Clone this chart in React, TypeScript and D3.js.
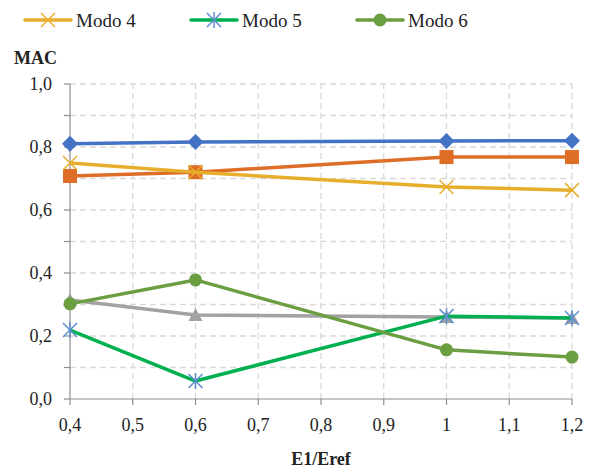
import React, { useEffect, useRef } from 'react';
import * as d3 from 'd3';

// x values (E1/Eref)
const ratios = [0.4, 0.6, 1.0, 1.2];

// MAC values per mode
const modo1 = [0.81, 0.816, 0.819, 0.82];
const modo2 = [0.708, 0.72, 0.768, 0.768];
const modo4 = [0.749, 0.72, 0.673, 0.663];
const modo3 = [0.314, 0.267, 0.26, 0.257];
const modo5 = [0.219, 0.057, 0.263, 0.257];
const modo6 = [0.302, 0.378, 0.156, 0.133];

const xTicks = [0.4, 0.5, 0.6, 0.7, 0.8, 0.9, 1, 1.1, 1.2];
const yLabelTicks = [0, 0.2, 0.4, 0.6, 0.8, 1.0];
const yGridTicks = [0, 0.1, 0.2, 0.3, 0.4, 0.5, 0.6, 0.7, 0.8, 0.9, 1.0];

type Marker = 'diamond' | 'square' | 'x' | 'triangle' | 'star' | 'circle';

interface Series {
  name: string;
  values: number[];
  color: string;
  markerColor: string;
  marker: Marker;
  inLegend: boolean;
}

const series: Series[] = [
  { name: 'Modo 1', values: modo1, color: '#4472C4', markerColor: '#4472C4', marker: 'diamond', inLegend: false },
  { name: 'Modo 2', values: modo2, color: '#DE6D28', markerColor: '#DE6D28', marker: 'square', inLegend: false },
  { name: 'Modo 4', values: modo4, color: '#E6AE2C', markerColor: '#E6AE2C', marker: 'x', inLegend: true },
  { name: 'Modo 3', values: modo3, color: '#A2A2A2', markerColor: '#A2A2A2', marker: 'triangle', inLegend: false },
  { name: 'Modo 5', values: modo5, color: '#00B050', markerColor: '#5B8FD0', marker: 'star', inLegend: true },
  { name: 'Modo 6', values: modo6, color: '#6A9E40', markerColor: '#6A9E40', marker: 'circle', inLegend: true },
];

const W = 592;
const H = 468;
const FONT = "Liberation Serif";

function drawMarker(g: d3.Selection<SVGGElement, unknown, null, undefined>, type: Marker, x: number, y: number, color: string) {
  if (type === 'diamond') {
    g.append('path').attr('d', `M${x},${y - 8}L${x + 8},${y}L${x},${y + 8}L${x - 8},${y}Z`).attr('fill', color);
  } else if (type === 'square') {
    g.append('rect').attr('x', x - 7).attr('y', y - 7).attr('width', 14).attr('height', 14).attr('fill', color);
  } else if (type === 'circle') {
    g.append('circle').attr('cx', x).attr('cy', y).attr('r', 6.5).attr('fill', color);
  } else if (type === 'triangle') {
    g.append('path').attr('d', `M${x},${y - 7}L${x + 7},${y + 6}L${x - 7},${y + 6}Z`).attr('fill', color);
  } else if (type === 'x') {
    const s = 7;
    g.append('path').attr('d', `M${x - s},${y - s}L${x + s},${y + s}M${x - s},${y + s}L${x + s},${y - s}`)
      .attr('stroke', color).attr('stroke-width', 1.5).attr('fill', 'none');
  } else if (type === 'star') {
    const s = 7;
    g.append('path').attr('d', `M${x - s},${y - s}L${x + s},${y + s}M${x - s},${y + s}L${x + s},${y - s}M${x},${y - s - 1}L${x},${y + s + 1}`)
      .attr('stroke', color).attr('stroke-width', 1.5).attr('fill', 'none');
  }
}

const App: React.FC = () => {
  const svgRef = useRef<SVGSVGElement>(null);

  useEffect(() => {
    if (!svgRef.current) return;
    const svg = d3.select(svgRef.current);
    svg.selectAll('*').remove();

    const x = d3.scaleLinear().domain([0.4, 1.2]).range([70, 572]);
    const y = d3.scaleLinear().domain([0, 1]).range([399, 84]);

    // gridlines
    const grid = svg.append('g');
    yGridTicks.slice(1).forEach(t => {
      grid.append('line').attr('x1', x(0.4)).attr('x2', x(1.2)).attr('y1', y(t)).attr('y2', y(t))
        .attr('stroke', '#D9D9D9').attr('stroke-width', 1.3).attr('stroke-dasharray', '6,4');
    });
    xTicks.slice(1).forEach(t => {
      grid.append('line').attr('x1', x(t)).attr('x2', x(t)).attr('y1', y(0)).attr('y2', y(1))
        .attr('stroke', '#D9D9D9').attr('stroke-width', 1.3).attr('stroke-dasharray', '6,4');
    });

    // axes
    const axisG = svg.append('g');
    axisG.append('line').attr('x1', x(0.4)).attr('x2', x(0.4)).attr('y1', y(0)).attr('y2', y(1))
      .attr('stroke', '#8C8C8C').attr('stroke-width', 1.2);
    axisG.append('line').attr('x1', x(0.4)).attr('x2', x(1.2)).attr('y1', y(0)).attr('y2', y(0))
      .attr('stroke', '#8C8C8C').attr('stroke-width', 1.2);
    yGridTicks.forEach(t => {
      axisG.append('line').attr('x1', x(0.4) - 6).attr('x2', x(0.4)).attr('y1', y(t)).attr('y2', y(t))
        .attr('stroke', '#8C8C8C').attr('stroke-width', 1.2);
    });
    xTicks.forEach(t => {
      axisG.append('line').attr('x1', x(t)).attr('x2', x(t)).attr('y1', y(0)).attr('y2', y(0) + 6)
        .attr('stroke', '#8C8C8C').attr('stroke-width', 1.2);
    });

    const fmt = (v: number, d: number) => v.toFixed(d).replace('.', ',');
    yLabelTicks.forEach(t => {
      axisG.append('text').attr('x', 52).attr('y', y(t)).attr('dy', '0.35em').attr('text-anchor', 'end')
        .attr('font-family', FONT).attr('font-size', 18).attr('fill', '#222').text(fmt(t, 1));
    });
    xTicks.forEach(t => {
      axisG.append('text').attr('x', x(t)).attr('y', 431).attr('text-anchor', 'middle')
        .attr('font-family', FONT).attr('font-size', 18).attr('fill', '#222')
        .text(Number.isInteger(t) ? String(t) : fmt(t, 1));
    });

    svg.append('text').attr('x', 14).attr('y', 64).attr('font-family', FONT).attr('font-size', 18)
      .attr('font-weight', 'bold').attr('fill', '#222').text('MAC');
    svg.append('text').attr('x', 321).attr('y', 465).attr('text-anchor', 'middle').attr('font-family', FONT)
      .attr('font-size', 18).attr('font-weight', 'bold').attr('fill', '#222').text('E1/Eref');

    // series
    const line = d3.line<number>().x((_, i) => x(ratios[i])).y(d => y(d));
    series.forEach(s => {
      const g = svg.append('g');
      g.append('path').datum(s.values).attr('d', line).attr('fill', 'none')
        .attr('stroke', s.color).attr('stroke-width', 3.5).attr('stroke-linejoin', 'round');
      s.values.forEach((v, i) => drawMarker(g, s.marker, x(ratios[i]), y(v), s.markerColor));
    });

    // legend
    const legendX = [25, 191, 357];
    series.filter(s => s.inLegend).forEach((s, i) => {
      const g = svg.append('g');
      const lx = legendX[i];
      g.append('line').attr('x1', lx).attr('x2', lx + 46).attr('y1', 20).attr('y2', 20)
        .attr('stroke', s.color).attr('stroke-width', 3.5).attr('stroke-linecap', 'round');
      drawMarker(g, s.marker, lx + 23, 20, s.markerColor);
      g.append('text').attr('x', lx + 51).attr('y', 20).attr('dy', '0.35em').attr('font-family', FONT)
        .attr('font-size', 19).attr('fill', '#222').text(s.name);
    });
  }, []);

  return (
    <div style={{ width: W, height: H, position: 'absolute', left: 0, top: 0, background: '#fff' }}>
      <svg ref={svgRef} width={W} height={H} />
    </div>
  );
};

export default App;
